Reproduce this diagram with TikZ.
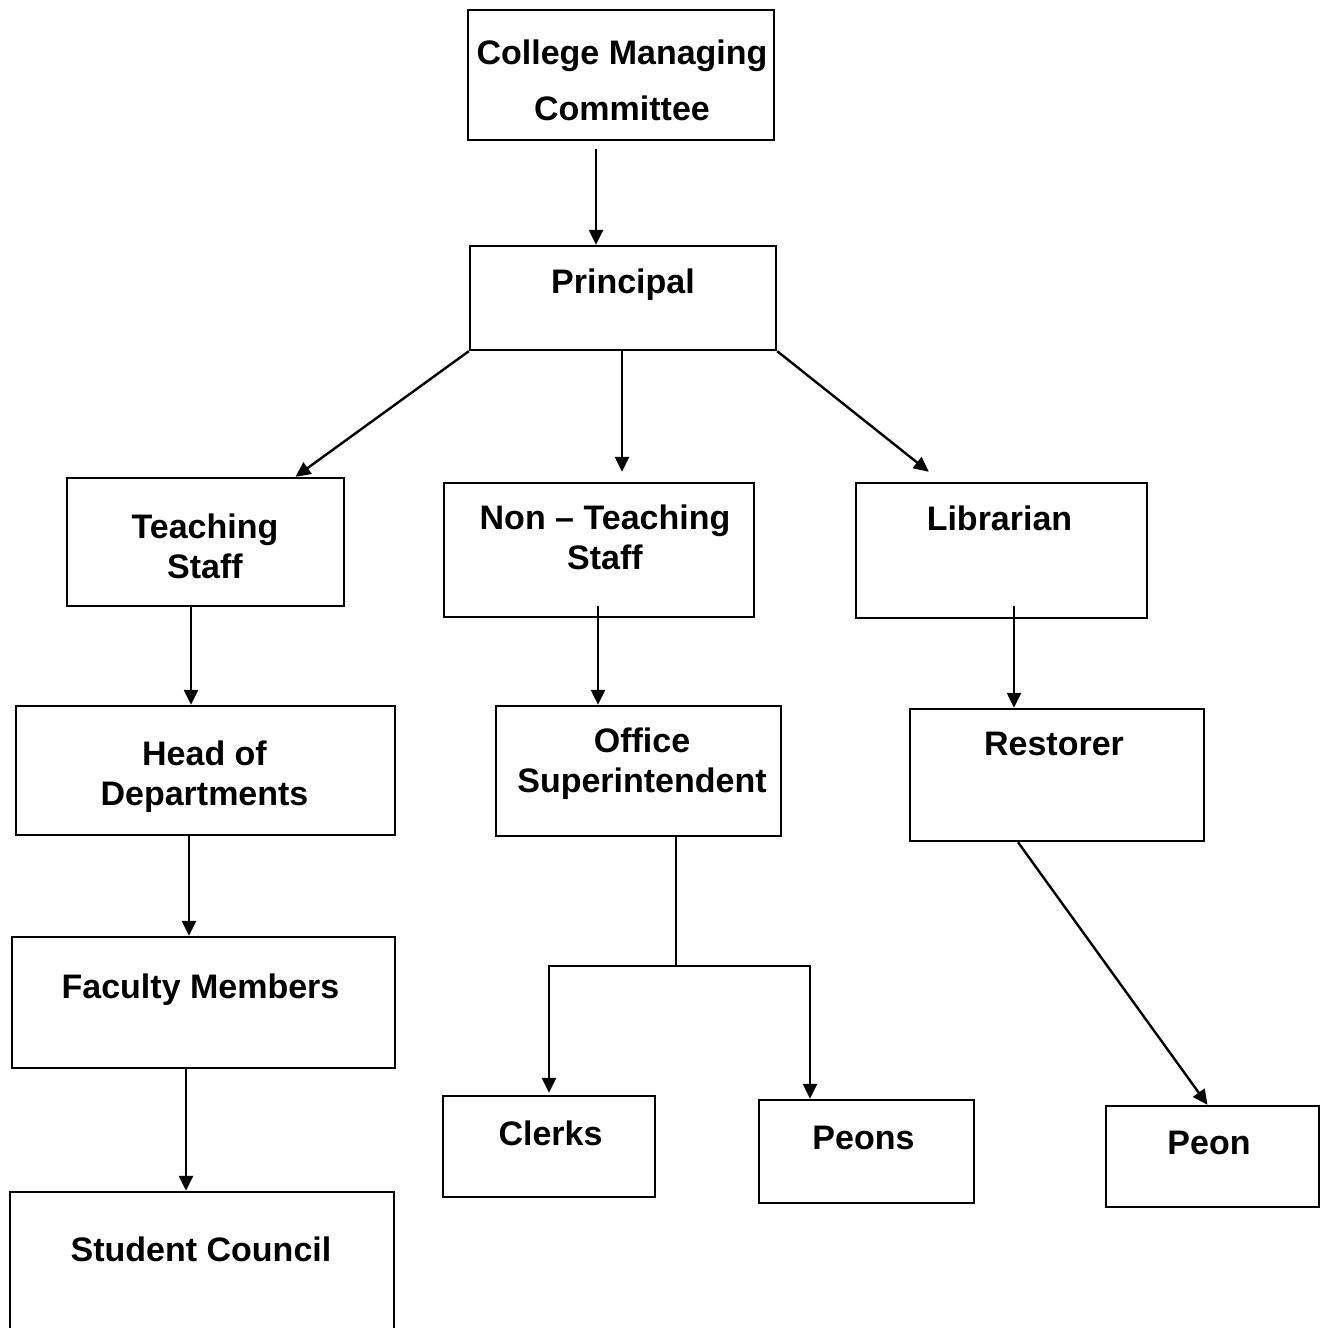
\documentclass[tikz,border=0pt]{standalone}
\usepackage{fontspec}
\setmainfont{Liberation Sans}
\usetikzlibrary{arrows.meta}
\tikzstyle{box}=[draw, rectangle, inner sep=0pt]
\tikzstyle{txt}=[align=center, inner sep=0pt, font=\fontsize{34}{40}\selectfont\bfseries]
\tikzstyle{arr}=[-{Triangle[length=15pt,width=14pt]}]

\begin{document}
\begin{tikzpicture}[x=1pt, y=-1pt, line width=2.4pt, black]
    \useasboundingbox[fill=white] (0,0) rectangle (1323,1328);
% Boxes
    \node[box, minimum width=306, minimum height=130] (cmc) at (621,75) {};
    \node[box, minimum width=306, minimum height=104] (principal) at (623,298) {};
    \node[box, minimum width=277, minimum height=128] (ts) at (205.5,542) {};
    \node[box, minimum width=310, minimum height=134] (nts) at (599,550) {};
    \node[box, minimum width=291, minimum height=135] (lib) at (1001.5,550.5) {};
    \node[box, minimum width=379, minimum height=129] (hod) at (205.5,770.5) {};
    \node[box, minimum width=285, minimum height=130] (os) at (638.5,771) {};
    \node[box, minimum width=294, minimum height=132] (rest) at (1057,775) {};
    \node[box, minimum width=383, minimum height=131] (fm) at (203.5,1002.5) {};
    \node[box, minimum width=384, minimum height=150] (sc) at (202,1267) {};
    \node[box, minimum width=212, minimum height=101] (clerks) at (549,1146.5) {};
    \node[box, minimum width=215, minimum height=103] (peons) at (866.5,1151.5) {};
    \node[box, minimum width=213, minimum height=101] (peon) at (1212.5,1156.5) {};
% Labels
    \node[txt] (cmc-t) at (622,80) {College Managing\\[16pt]Committee};
    \node[txt] (principal-t) at (623,285) {Principal};
    \node[txt] (ts-t) at (205,546) {Teaching\\Staff};
    \node[txt] (nts-t) at (605,537) {Non -- Teaching\\Staff};
    \node[txt] (lib-t) at (999.5,518) {Librarian};
    \node[txt] (hod-t) at (204.5,777) {Head of\\Departments};
    \node[txt] (os-t) at (642,764) {Office\\Superintendent};
    \node[txt] (rest-t) at (1054,744) {Restorer};
    \node[txt] (fm-t) at (200.5,990) {Faculty Members};
    \node[txt] (sc-t) at (201,1249) {Student Council};
    \node[txt] (clerks-t) at (550.5,1133) {Clerks};
    \node[txt] (peons-t) at (863.5,1138) {Peons};
    \node[txt] (peon-t) at (1209,1143) {Peon};
% Arrows
    \draw[arr] ([xshift=-25pt,yshift=-8pt]cmc.south) -- ([xshift=-27pt]principal.north);
    \draw[arr] (principal.south west) -- ([xshift=90pt]ts.north);
    \draw[arr] ([xshift=-1pt]principal.south) -- ([xshift=23pt,yshift=10pt]nts.north);
    \draw[arr] (principal.south east) -- ([xshift=74pt,yshift=10pt]lib.north west);
    \draw[arr] ([xshift=-14.5pt]ts.south) -- ([xshift=-14.5pt]hod.north);
    \draw[arr] ([xshift=-16.5pt]hod.south) -- ([xshift=-14.5pt]fm.north);
    \draw[arr] ([xshift=-17.5pt]fm.south) -- ([xshift=-16pt]sc.north);
    \draw[arr] ([xshift=-1pt,yshift=12pt]nts.south) -- ([xshift=-40.5pt]os.north);
    \draw[arr] ([xshift=12.5pt,yshift=13pt]lib.south) -- ([xshift=-43pt]rest.north);
    \draw[arr] ([xshift=-39pt]rest.south) -- ([xshift=-5pt]peon.north);
% Office branch
    \coordinate (split) at (676,966);
    \draw ([xshift=37.5pt]os.south) -- (split);
    \draw[arr] (split) -| ([yshift=2pt]clerks.north);
    \draw[arr] (split) -| ([xshift=-56.5pt]peons.north);
\end{tikzpicture}
\end{document}
